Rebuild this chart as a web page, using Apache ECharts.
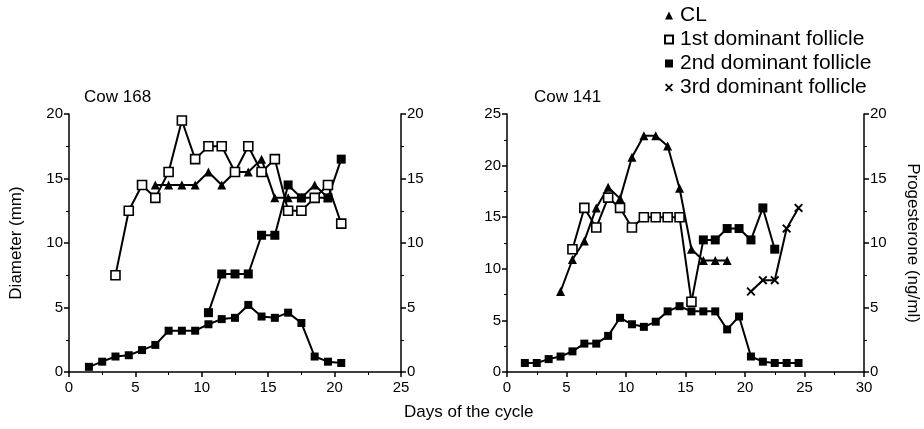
<!DOCTYPE html>
<html lang="en" style="height: 100%">
<head>
  <meta charset="utf-8">
</head>
<body style="height: 100%; margin: 0; background: #fff">
<div id="container" style="width: 924px; height: 429px"></div>

<script type="text/javascript" src="https://fastly.jsdelivr.net/npm/echarts@6/dist/echarts.min.js"></script>
<script type="text/javascript">
  // Cow 168
  var c168ClDays = [6.5, 7.5, 8.5, 9.5, 10.5, 11.5, 12.5, 13.5, 14.5, 15.5, 16.5, 17.5, 18.5, 19.5];
  var c168Cl = [14.5, 14.5, 14.5, 14.5, 15.5, 14.5, 15.5, 15.5, 16.5, 13.5, 13.5, 13.5, 14.5, 13.5];
  var c168FirstDays = [3.5, 4.5, 5.5, 6.5, 7.5, 8.5, 9.5, 10.5, 11.5, 12.5, 13.5, 14.5, 15.5, 16.5, 17.5, 18.5, 19.5, 20.5];
  var c168First = [7.5, 12.5, 14.5, 13.5, 15.5, 19.5, 16.5, 17.5, 17.5, 15.5, 17.5, 15.5, 16.5, 12.5, 12.5, 13.5, 14.5, 11.5];
  var c168SecondDays = [10.5, 11.5, 12.5, 13.5, 14.5, 15.5, 16.5, 17.5, 18.5, 19.5, 20.5];
  var c168Second = [4.6, 7.6, 7.6, 7.6, 10.6, 10.6, 14.5, 13.5, 13.5, 13.5, 16.5];
  var c168ProgDays = [1.5, 2.5, 3.5, 4.5, 5.5, 6.5, 7.5, 8.5, 9.5, 10.5, 11.5, 12.5, 13.5, 14.5, 15.5, 16.5, 17.5, 18.5, 19.5, 20.5];
  var c168Prog = [0.4, 0.8, 1.2, 1.3, 1.7, 2.1, 3.2, 3.2, 3.2, 3.7, 4.1, 4.2, 5.2, 4.3, 4.2, 4.6, 3.8, 1.2, 0.8, 0.7];

  // Cow 141
  var c141ClDays = [4.5, 5.5, 6.5, 7.5, 8.5, 9.5, 10.5, 11.5, 12.5, 13.5, 14.5, 15.5, 16.5, 17.5, 18.5];
  var c141Cl = [7.8, 10.9, 12.7, 15.9, 17.9, 16.8, 20.8, 22.9, 22.9, 21.9, 17.8, 11.9, 10.8, 10.8, 10.8];
  var c141FirstDays = [5.5, 6.5, 7.5, 8.5, 9.5, 10.5, 11.5, 12.5, 13.5, 14.5, 15.5];
  var c141First = [11.9, 15.9, 14.0, 16.9, 15.9, 14.0, 15.0, 15.0, 15.0, 15.0, 6.8];
  var c141SecondDays = [15.5, 16.5, 17.5, 18.5, 19.5, 20.5, 21.5, 22.5];
  var c141Second = [6.8, 12.8, 12.8, 13.9, 13.9, 12.8, 15.9, 11.9];
  var c141ThirdDays = [20.5, 21.5, 22.5, 23.5, 24.5];
  var c141Third = [7.8, 8.9, 8.9, 13.9, 15.9];
  var c141ProgDays = [1.5, 2.5, 3.5, 4.5, 5.5, 6.5, 7.5, 8.5, 9.5, 10.5, 11.5, 12.5, 13.5, 14.5, 15.5, 16.5, 17.5, 18.5, 19.5, 20.5, 21.5, 22.5, 23.5, 24.5];
  var c141Prog = [0.7, 0.7, 1.0, 1.2, 1.6, 2.2, 2.2, 2.8, 4.2, 3.7, 3.5, 3.9, 4.7, 5.1, 4.7, 4.7, 4.7, 3.3, 4.3, 1.2, 0.8, 0.7, 0.7, 0.7];

  function pairs(days, vals) {
    return days.map(function (d, i) { return [d, vals[i]]; });
  }

  var FONT = "'Liberation Sans', Arial, sans-serif";
  var NARROW = "'Liberation Sans Narrow', 'Liberation Sans', Arial, sans-serif";
  var CROSS = 'path://M1.5,0L5,3.5L8.5,0L10,1.5L6.5,5L10,8.5L8.5,10L5,6.5L1.5,10L0,8.5L3.5,5L0,1.5Z';

  var dom = document.getElementById('container');
  var myChart = echarts.init(dom, null, { renderer: 'canvas' });

  function xAx(gridIndex, max) {
    return {
      type: 'value', gridIndex: gridIndex, min: 0, max: max, interval: 5,
      axisLine: { lineStyle: { color: '#000', width: 1.5 } },
      axisTick: { length: 5, lineStyle: { color: '#000', width: 1.5 } },
      minorTick: { show: true, splitNumber: 2, length: 3, lineStyle: { color: '#000' } },
      axisLabel: { color: '#000', fontSize: 15, fontFamily: NARROW, margin: 8 },
      splitLine: { show: false }
    };
  }
  function yAx(gridIndex, max, pos) {
    return {
      type: 'value', gridIndex: gridIndex, position: pos, min: 0, max: max, interval: 5,
      axisLine: { show: true, onZero: false, lineStyle: { color: '#000', width: 1.5 } },
      axisTick: { show: true, length: 5, lineStyle: { color: '#000', width: 1.5 } },
      minorTick: { show: true, splitNumber: 2, length: 3, lineStyle: { color: '#000' } },
      axisLabel: { color: '#000', fontSize: 15, fontFamily: NARROW, margin: 6 },
      splitLine: { show: false }
    };
  }

  var yLeft168 = yAx(0, 20, 'left');
  yLeft168.name = 'Diameter (mm)';
  yLeft168.nameLocation = 'middle';
  yLeft168.nameGap = 44;
  yLeft168.nameTextStyle = { color: '#000', fontSize: 17, fontFamily: FONT };
  var yRight141 = yAx(1, 20, 'right');
  yRight141.name = 'Progesterone (ng/ml)';
  yRight141.nameLocation = 'middle';
  yRight141.nameRotate = -90;
  yRight141.nameGap = 40;
  yRight141.nameTextStyle = { color: '#000', fontSize: 17, fontFamily: FONT };

  function lineSeries(name, x, y, data, symbol, size, open) {
    return {
      name: name, type: 'line', xAxisIndex: x, yAxisIndex: y, data: data,
      symbol: symbol, symbolSize: size, showAllSymbol: true,
      lineStyle: { color: '#000', width: 2 },
      itemStyle: open ? { color: '#fff', borderColor: '#000', borderWidth: 1.6 } : { color: '#000' },
      emphasis: { disabled: true },
      z: open ? 3 : 2
    };
  }

  var second141 = pairs(c141SecondDays, c141Second);
  second141[0] = { value: second141[0], symbol: 'none' };

  var option = {
    animation: false,
    textStyle: { fontFamily: FONT },
    title: [
      { text: 'Cow 168', left: 79, top: 84, textStyle: { color: '#000', fontSize: 17, fontWeight: 'normal', fontFamily: FONT } },
      { text: 'Cow 141', left: 529, top: 84, textStyle: { color: '#000', fontSize: 17, fontWeight: 'normal', fontFamily: FONT } }
    ],
    legend: {
      orient: 'vertical', left: 659, top: 0, itemGap: 3, itemWidth: 8, itemHeight: 8,
      selectedMode: false,
      textStyle: { color: '#000', fontSize: 21, fontFamily: FONT, padding: [0, 0, 0, 2] },
      data: [
        { name: 'CL', icon: 'triangle' },
        { name: '1st dominant follicle', icon: 'rect' },
        { name: '2nd dominant follicle', icon: 'rect' },
        { name: '3rd dominant follicle', icon: CROSS }
      ]
    },
    grid: [
      { left: 69, top: 114, width: 332, height: 258 },
      { left: 507, top: 114, width: 357, height: 258 }
    ],
    xAxis: [xAx(0, 25), xAx(1, 30)],
    yAxis: [yLeft168, yAx(0, 20, 'right'), yAx(1, 25, 'left'), yRight141],
    graphic: [
      { type: 'text', left: 404, top: 404, style: { text: 'Days of the cycle', fill: '#000', fontSize: 17, fontFamily: FONT } }
    ],
    series: [
      lineSeries('Progesterone', 0, 1, pairs(c168ProgDays, c168Prog), 'rect', 8, false),
      lineSeries('2nd dominant follicle', 0, 0, pairs(c168SecondDays, c168Second), 'rect', 9, false),
      lineSeries('CL', 0, 0, pairs(c168ClDays, c168Cl), 'triangle', 9, false),
      lineSeries('1st dominant follicle', 0, 0, pairs(c168FirstDays, c168First), 'rect', 9, true),

      lineSeries('Progesterone', 1, 3, pairs(c141ProgDays, c141Prog), 'rect', 8, false),
      lineSeries('2nd dominant follicle', 1, 2, second141, 'rect', 9, false),
      lineSeries('CL', 1, 2, pairs(c141ClDays, c141Cl), 'triangle', 9, false),
      lineSeries('1st dominant follicle', 1, 2, pairs(c141FirstDays, c141First), 'rect', 9, true),
      lineSeries('3rd dominant follicle', 1, 2, pairs(c141ThirdDays, c141Third), CROSS, 9, false)
    ]
  };

  myChart.setOption(option);
  window.addEventListener('resize', myChart.resize);
</script>
</body>
</html>
